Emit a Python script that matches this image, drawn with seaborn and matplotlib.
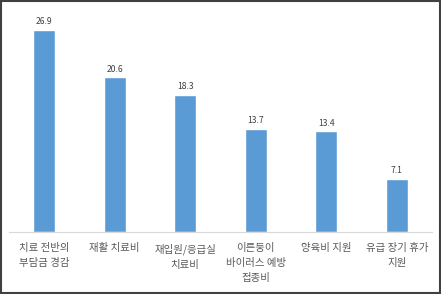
import matplotlib
matplotlib.use("Agg")
import matplotlib.pyplot as plt
import seaborn as sns
import pandas as pd
from matplotlib.patches import Rectangle

categories = ["치료 전반의\n부담금 경감", "재활 치료비", "재입원/응급실\n치료비",
              "이른둥이\n바이러스 예방\n접종비", "양육비 지원", "유급 장기 휴가\n지원"]
values = [26.9, 20.6, 18.3, 13.7, 13.4, 7.1]
value_labels = ["26.9", "20.6", "18.3", "13.7", "13.4", "7.1"]

sns.set_theme(style="white")
plt.rcParams['font.family'] = ['Noto Sans CJK KR', 'DejaVu Sans']

df = pd.DataFrame({"cat": categories, "val": values})

fig = plt.figure(figsize=(4.41, 2.94), dpi=100)
ax = fig.add_axes([0.02, 0.211, 0.96, 0.755])
sns.barplot(data=df, x="cat", y="val", color="#5B9BD5", width=0.31, saturation=1, ax=ax)

for i, (v, t) in enumerate(zip(values, value_labels)):
    ax.text(i, v + 0.5, t, ha="center", va="bottom", fontsize=6.2, color="#404040")

ax.set_ylim(0, 29.6)
ax.set_xlim(-0.5, 5.5)
ax.set_xlabel("")
ax.set_ylabel("")
ax.set_yticks([])
for s in ["top", "left", "right"]:
    ax.spines[s].set_visible(False)
ax.spines["bottom"].set_color("#D9D9D9")
ax.spines["bottom"].set_linewidth(0.8)
ax.tick_params(axis="x", length=0, pad=8, labelsize=7.5, labelcolor="#595959")
for lbl in ax.get_xticklabels():
    lbl.set_linespacing(1.65)
    lbl.set_va("top")

fig.patches.append(Rectangle((0.002, 0.003), 0.995, 0.994, transform=fig.transFigure,
                             fill=False, edgecolor="#404040", linewidth=1.5))
fig.savefig("out.png", dpi=100)
